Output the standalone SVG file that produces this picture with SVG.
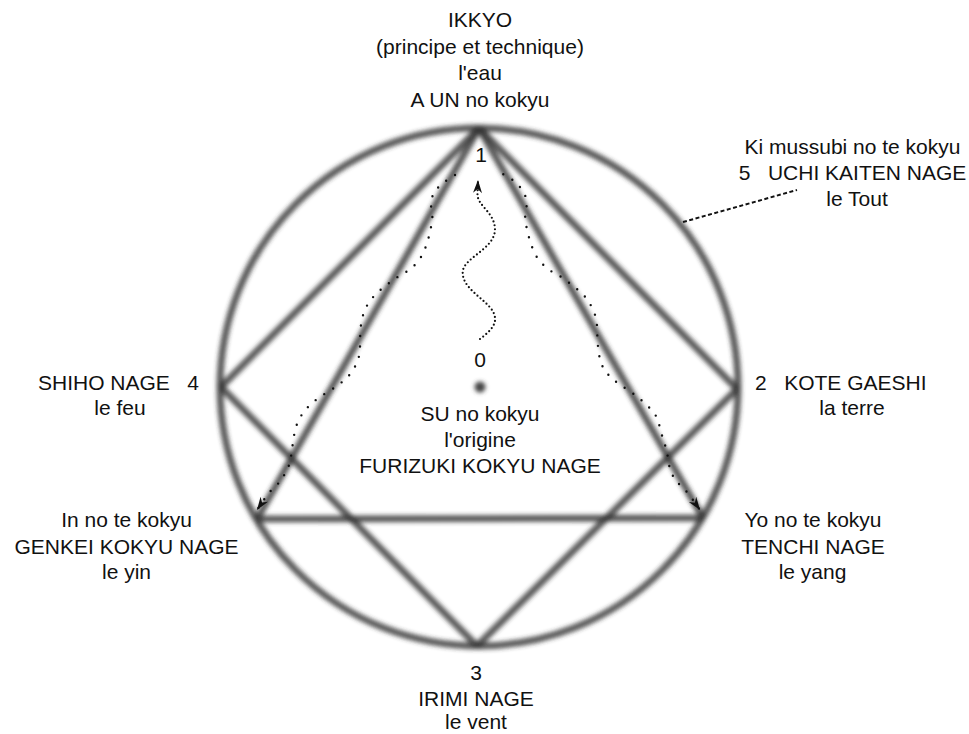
<svg xmlns="http://www.w3.org/2000/svg" width="969" height="734" viewBox="0 0 969 734">
  <defs>
    <filter id="soft" x="-10%" y="-10%" width="120%" height="120%">
      <feGaussianBlur stdDeviation="2.2"/>
    </filter>
    <filter id="dotblur" x="-100%" y="-100%" width="300%" height="300%">
      <feGaussianBlur stdDeviation="2"/>
    </filter>
    <marker id="arr" viewBox="-14 -6 16 12" refX="0" refY="0" markerWidth="16" markerHeight="12" markerUnits="userSpaceOnUse" orient="auto">
      <path d="M0,0 L-13,-4.5 L-9,0 L-13,4.5 Z" fill="#111"/>
    </marker>
    <style>
      text { font-family: "Liberation Sans", Arial, sans-serif; font-size: 21px; fill: #111; }
      .c { text-anchor: middle; }
      .blur line, .blur circle { stroke: #333; stroke-width: 7; stroke-opacity: 0.8; fill: none; }
      .dots { fill: none; stroke: #111; stroke-width: 2.4; stroke-linecap: round; stroke-dasharray: 0 10.5; }
      .sq { fill: none; stroke: #111; stroke-width: 2.2; stroke-linecap: round; stroke-dasharray: 0 4; }
      .dash { fill: none; stroke: #111; stroke-width: 2; stroke-dasharray: 4 2.5; }
    </style>
  </defs>
  <rect width="969" height="734" fill="#fff"/>

  <g id="connectors">
    <g class="blur" filter="url(#soft)">
      <circle cx="479" cy="387" r="259"/>
      <line x1="479" y1="128" x2="257" y2="519"/>
      <line x1="479" y1="128" x2="703" y2="518"/>
      <line x1="257" y1="519" x2="703" y2="518"/>
      <line x1="479" y1="128" x2="221" y2="387"/>
      <line x1="479" y1="128" x2="737" y2="389"/>
      <line x1="221" y1="387" x2="477" y2="646"/>
      <line x1="737" y1="389" x2="477" y2="646"/>
    </g>
    <path class="dots" marker-end="url(#arr)" d="M455,175 L445,181.5 L437.5,188 L432,197 L431,208 L432.5,218 L430.7,229 L428.3,239 L425,249 L420,259 L413.3,266.7 L404.3,273.3 L395,278.5 L386.7,285 L378.3,291.7 L371,299.3 L365.3,308.3 L362,318.3 L360.5,328.3 L360,340 L360,350 L358.3,360 L353.3,370 L346.7,378.3 L338.3,385 L330,390.7 L320,396.7 L311.7,403.3 L305,410 L298.3,420 L295,430 L293.3,440 L291.7,451.7 L290,463.3 L285,473.3 L281.7,480 L275,486.7 L268.3,493.3 L257,510"/>
    <path class="dots" marker-end="url(#arr)" d="M503.3,174.3 L512.7,180 L520.7,187.7 L525.7,196.7 L526.7,207.7 L525,217.7 L526.7,228.3 L529.3,238.7 L532.7,248.7 L537.3,258 L544.3,266 L552.7,272.3 L562,277.3 L570.7,284 L579,290.7 L586.7,298.3 L592,307.3 L596,317.3 L597.3,328.3 L597.3,338.3 L598.3,350 L600,360 L604,370 L611.7,378.3 L620,385 L628.3,390 L637.3,396.7 L645,403.3 L651.7,410 L657.7,418.3 L660,428.3 L663.3,440 L666.7,450 L668.3,460 L670,470 L675,480 L681.7,486.7 L688.3,493.3 L700,510"/>
    <path class="sq" marker-end="url(#arr)" d="M480,339 C488,333 496,326 495,318 C494,302 463,292 462.7,273 C462,258 494,250 495,230 C495,212 477,206 477.5,194 L478,180"/>
    <path class="dash" d="M683,222 L797,190"/>
  </g>

  <g id="n1">
    <text class="c" x="480" y="27">IKKYO</text>
    <text class="c" x="480" y="53.5">(principe et technique)</text>
    <text class="c" x="480" y="80">l'eau</text>
    <text class="c" x="480" y="106.5">A UN no kokyu</text>
    <text class="c" x="481" y="162">1</text>
  </g>

  <g id="n0">
    <text class="c" x="480" y="367">0</text>
    <circle cx="480" cy="387" r="5.5" fill="#444" filter="url(#dotblur)"/>
    <text class="c" x="480" y="421">SU no kokyu</text>
    <text class="c" x="480" y="447">l'origine</text>
    <text class="c" x="480" y="473">FURIZUKI KOKYU NAGE</text>
  </g>

  <g id="n2">
    <text x="755" y="390" xml:space="preserve">2   KOTE GAESHI</text>
    <text class="c" x="852" y="415">la terre</text>
  </g>

  <g id="n3">
    <text class="c" x="476" y="680">3</text>
    <text class="c" x="476" y="706">IRIMI NAGE</text>
    <text class="c" x="476" y="729">le vent</text>
  </g>

  <g id="n4">
    <text x="38" y="390" xml:space="preserve">SHIHO NAGE   4</text>
    <text class="c" x="120" y="415">le feu</text>
  </g>

  <g id="n5">
    <text class="c" x="852.5" y="154">Ki mussubi no te kokyu</text>
    <text class="c" x="852.5" y="180" xml:space="preserve">5   UCHI KAITEN NAGE</text>
    <text class="c" x="857" y="206">le Tout</text>
  </g>

  <g id="yin">
    <text class="c" x="126.5" y="527">In no te kokyu</text>
    <text class="c" x="126.5" y="553.5">GENKEI KOKYU NAGE</text>
    <text class="c" x="126.5" y="579">le yin</text>
  </g>

  <g id="yang">
    <text class="c" x="813" y="527">Yo no te kokyu</text>
    <text class="c" x="813" y="553.5">TENCHI NAGE</text>
    <text class="c" x="812.5" y="579">le yang</text>
  </g>
</svg>
